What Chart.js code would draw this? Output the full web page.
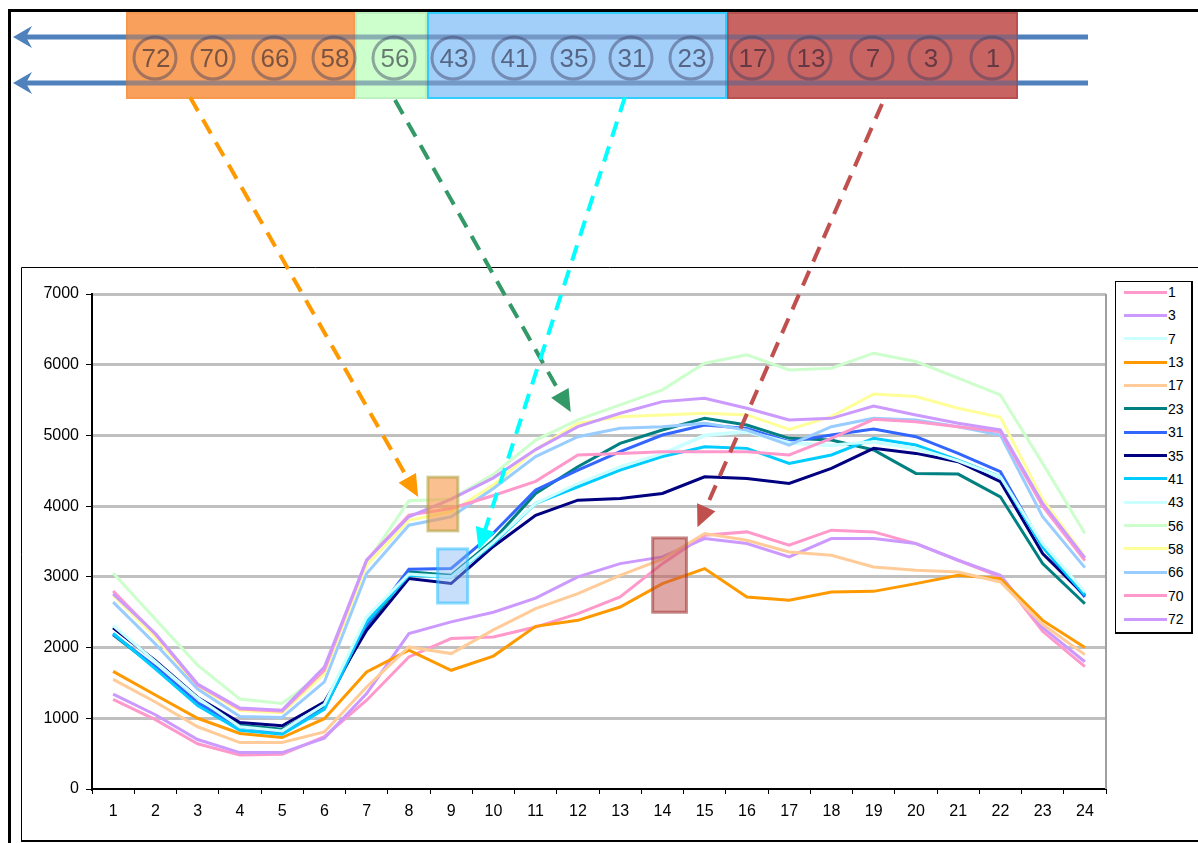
<!DOCTYPE html>
<html>
<head>
<meta charset="utf-8">
<script src="https://cdn.jsdelivr.net/npm/chart.js@4.4.1/dist/chart.umd.min.js"></script>
<style>
  html, body { margin: 0; padding: 0; background: #fff; overflow: hidden; }
  #wrap { position: relative; width: 1198px; height: 843px; }
  #loadChart { position: absolute; left: 0; top: 0; }
  #legend {
    position: absolute; left: 1115px; top: 281px; width: 75px; height: 350px;
    border: 1px solid #000; border-right-width: 2px; border-bottom-width: 2px;
    background: #fff; font: 14px "Liberation Sans", Arial, sans-serif; color: #000;
  }
  .swatch { position: absolute; left: 8px; width: 43px; height: 3px; }
  .lbl { position: absolute; left: 52px; line-height: 16px; }
</style>
</head>
<body>
<div id="wrap">
  <canvas id="loadChart" width="1198" height="843"></canvas>
  <div id="legend"></div>
</div>
<script>
const hours = ["1", "2", "3", "4", "5", "6", "7", "8", "9", "10", "11", "12",
  "13", "14", "15", "16", "17", "18", "19", "20", "21", "22", "23", "24"];

const load1 = [1267, 980, 640, 482, 491, 740, 1255, 1868, 2127, 2150, 2290, 2480, 2715, 3187, 3589, 3636, 3447, 3660, 3636, 3471, 3235, 3001, 2230, 1730];
const load3 = [1343, 1050, 700, 515, 515, 720, 1349, 2198, 2363, 2500, 2700, 3000, 3187, 3282, 3542, 3471, 3282, 3542, 3542, 3471, 3235, 3022, 2280, 1800];
const load7 = [2300, 1790, 1280, 870, 815, 1190, 2420, 3035, 2990, 3480, 4030, 4310, 4545, 4735, 4995, 5050, 4890, 4855, 4905, 4810, 4630, 4405, 3460, 2780];
const load13 = [1664, 1330, 1000, 785, 728, 995, 1656, 1962, 1679, 1880, 2300, 2385, 2573, 2904, 3117, 2715, 2668, 2786, 2795, 2904, 3022, 2975, 2384, 2000];
const load17 = [1550, 1230, 880, 657, 657, 807, 1443, 2009, 1915, 2250, 2550, 2762, 3022, 3250, 3613, 3518, 3353, 3306, 3140, 3093, 3069, 2928, 2330, 1900];
const load23 = [2180, 1720, 1210, 900, 846, 1160, 2290, 3071, 3022, 3520, 4180, 4557, 4888, 5077, 5242, 5148, 4959, 4935, 4794, 4463, 4453, 4132, 3187, 2620];
const load31 = [2190, 1730, 1220, 880, 800, 1140, 2316, 3108, 3118, 3620, 4227, 4510, 4770, 5006, 5148, 5100, 4912, 5006, 5091, 4982, 4746, 4487, 3430, 2715];
const load35 = [2280, 1815, 1295, 940, 894, 1231, 2245, 2976, 2906, 3430, 3870, 4085, 4108, 4180, 4415, 4392, 4321, 4534, 4817, 4746, 4628, 4345, 3329, 2739];
const load41 = [2200, 1700, 1180, 830, 775, 1130, 2363, 3024, 3000, 3470, 4040, 4274, 4510, 4700, 4840, 4817, 4605, 4723, 4959, 4864, 4652, 4415, 3420, 2739];
const load43 = [2312, 1800, 1290, 880, 822, 1200, 2434, 3040, 3000, 3490, 4040, 4320, 4557, 4746, 5006, 5060, 4900, 4864, 4912, 4820, 4640, 4415, 3471, 2786];
const load56 = [3055, 2400, 1750, 1272, 1210, 1650, 3200, 4075, 4100, 4450, 4935, 5219, 5431, 5644, 6022, 6140, 5927, 5951, 6163, 6045, 5809, 5573, 4605, 3613];
const load58 = [2740, 2150, 1450, 1110, 1080, 1632, 3165, 3800, 3920, 4300, 4800, 5170, 5265, 5290, 5313, 5290, 5086, 5266, 5587, 5549, 5384, 5257, 4100, 3282];
const load66 = [2643, 2050, 1414, 1026, 1012, 1514, 3047, 3731, 3849, 4250, 4700, 4982, 5100, 5124, 5171, 5077, 4864, 5124, 5242, 5219, 5124, 5006, 3850, 3131];
const load70 = [2800, 2190, 1470, 1130, 1100, 1679, 3236, 3873, 3967, 4150, 4350, 4723, 4746, 4770, 4770, 4770, 4723, 4959, 5228, 5195, 5124, 5053, 4000, 3230];
const load72 = [2760, 2200, 1485, 1144, 1115, 1726, 3236, 3850, 4100, 4400, 4800, 5124, 5313, 5478, 5526, 5384, 5219, 5242, 5417, 5290, 5171, 5077, 4038, 3268];

const seriesNames = ["1", "3", "7", "13", "17", "23", "31", "35", "41", "43", "56", "58", "66", "70", "72"];
const seriesValues = [load1, load3, load7, load13, load17, load23, load31, load35, load41, load43, load56, load58, load66, load70, load72];
const seriesColors = ["#ff99cc", "#cc99ff", "#ccffff", "#ff9900", "#ffcc99", "#008080", "#3366ff", "#000080",
  "#00ccff", "#ccffff", "#ccffcc", "#ffff99", "#99ccff", "#ff99cc", "#cc99ff"];

// banner groups (top strip), left to right
const bannerGroups = [
  { ids: ["72", "70", "66", "58"], from: 126, to: 355, fill: "#f8a05c", stroke: "#f59a50" },
  { ids: ["56"], from: 355, to: 427, fill: "#ccffcc", stroke: "#bff0bf" },
  { ids: ["43", "41", "35", "31", "23"], from: 427, to: 727, fill: "#a2cefa", stroke: "#33ccff" },
  { ids: ["17", "13", "7", "3", "1"], from: 727, to: 1018, fill: "#c86462", stroke: "#b85050" }
];
const bannerCircleX = [155, 213, 274, 334, 394, 453, 514, 573, 631, 691, 752, 810, 872, 930, 992];

// dashed arrows: start in page pixels, tip in data units (hour, value)
const pointers = [
  { color: "#ff9900", sx: 190, sy: 97, hour: 8.22, value: 4130 },
  { color: "#339966", sx: 395, sy: 100, hour: 11.83, value: 5330 },
  { color: "#00ffff", sx: 625, sy: 97, hour: 9.65, value: 3380 },
  { color: "#c0504d", sx: 882, sy: 104, hour: 14.83, value: 3700 }
];
// highlight boxes in data units
const highlights = [
  { h0: 8.45, h1: 9.16, v0: 3650, v1: 4410, fill: "rgba(247,150,70,0.6)", stroke: "rgba(170,160,60,0.55)" },
  { h0: 8.68, h1: 9.39, v0: 2630, v1: 3395, fill: "rgba(130,185,245,0.45)", stroke: "rgba(40,190,255,0.55)" },
  { h0: 13.77, h1: 14.57, v0: 2500, v1: 3550, fill: "rgba(192,80,77,0.5)", stroke: "rgba(165,60,60,0.6)" }
];

function arrowHead(ctx, x0, y0, x1, y1, len, half) {
  const a = Math.atan2(y1 - y0, x1 - x0);
  ctx.beginPath();
  ctx.moveTo(x1, y1);
  ctx.lineTo(x1 - len * Math.cos(a) + half * Math.sin(a), y1 - len * Math.sin(a) - half * Math.cos(a));
  ctx.lineTo(x1 - len * Math.cos(a) - half * Math.sin(a), y1 - len * Math.sin(a) + half * Math.cos(a));
  ctx.closePath();
  ctx.fill();
}

const framePlugin = {
  id: "frames",
  beforeDraw(chart) {
    const ctx = chart.ctx;
    ctx.save();
    ctx.fillStyle = "#fff";
    ctx.fillRect(0, 0, chart.width, chart.height);
    ctx.strokeStyle = "#000";
    ctx.lineWidth = 3;
    ctx.beginPath();
    ctx.moveTo(9.5, 843); ctx.lineTo(9.5, 10.5); ctx.lineTo(1198, 10.5);
    ctx.stroke();
    ctx.lineWidth = 1;
    ctx.beginPath();
    ctx.moveTo(1198, 267.5); ctx.lineTo(21.5, 267.5); ctx.lineTo(21.5, 841);
    ctx.stroke();
    ctx.lineWidth = 2;
    ctx.beginPath();
    ctx.moveTo(21, 841); ctx.lineTo(1198, 841);
    ctx.stroke();
    ctx.restore();
  },
  afterDatasetsDraw(chart) {
    const ctx = chart.ctx;
    const x = chart.scales.x;
    const y = chart.scales.y;
    const area = chart.chartArea;
    ctx.save();
    ctx.strokeStyle = "#a0a0a0";
    ctx.lineWidth = 2;
    ctx.beginPath();
    ctx.moveTo(area.right, area.top);
    ctx.lineTo(area.right, area.bottom);
    ctx.stroke();

    highlights.forEach((b) => {
      const left = x.getPixelForValue(b.h0 - 1);
      const right = x.getPixelForValue(b.h1 - 1);
      const top = y.getPixelForValue(b.v1);
      const bottom = y.getPixelForValue(b.v0);
      ctx.fillStyle = b.fill;
      ctx.fillRect(left, top, right - left, bottom - top);
      ctx.strokeStyle = b.stroke;
      ctx.lineWidth = 3;
      ctx.strokeRect(left, top, right - left, bottom - top);
    });

    // banner
    bannerGroups.forEach((g) => {
      ctx.fillStyle = g.fill;
      ctx.fillRect(g.from, 12, g.to - g.from, 87);
      ctx.strokeStyle = g.stroke;
      ctx.lineWidth = 2;
      ctx.strokeRect(g.from + 1, 13, g.to - g.from - 2, 85);
    });
    [37, 83].forEach((ly) => {
      ctx.fillStyle = "#4f81bd";
      ctx.fillRect(24, ly - 2.5, 102, 5);
      ctx.fillRect(1018, ly - 2.5, 70, 5);
      ctx.fillStyle = "rgba(70,100,150,0.5)";
      ctx.fillRect(126, ly - 2.5, 892, 5);
      ctx.fillStyle = "#4f81bd";
      ctx.beginPath();
      ctx.moveTo(13, ly);
      ctx.lineTo(32, ly - 11);
      ctx.lineTo(26, ly);
      ctx.lineTo(32, ly + 11);
      ctx.closePath();
      ctx.fill();
    });
    const order = bannerGroups.flatMap((g) => g.ids);
    ctx.font = "26px 'Liberation Sans', Arial, sans-serif";
    ctx.textAlign = "center";
    ctx.textBaseline = "middle";
    order.forEach((id, i) => {
      const cx = bannerCircleX[i];
      ctx.strokeStyle = "rgba(60,60,95,0.45)";
      ctx.lineWidth = 3;
      ctx.beginPath();
      ctx.ellipse(cx, 58, 21, 21, 0, 0, Math.PI * 2);
      ctx.stroke();
      ctx.fillStyle = "rgba(30,25,45,0.58)";
      ctx.fillText(id, cx + 1, 60);
    });

    // pointers
    pointers.forEach((p) => {
      const tx = x.getPixelForValue(p.hour - 1);
      const ty = y.getPixelForValue(p.value);
      const a = Math.atan2(ty - p.sy, tx - p.sx);
      const ex = tx - 18 * Math.cos(a);
      const ey = ty - 18 * Math.sin(a);
      ctx.strokeStyle = p.color;
      ctx.fillStyle = p.color;
      ctx.lineWidth = 4;
      ctx.setLineDash([16, 10]);
      ctx.beginPath();
      ctx.moveTo(p.sx, p.sy);
      ctx.lineTo(ex, ey);
      ctx.stroke();
      ctx.setLineDash([]);
      arrowHead(ctx, p.sx, p.sy, tx, ty, 22, 10);
    });
    ctx.restore();
  }
};

const datasets = seriesNames.map((name, i) => ({
  label: name,
  data: seriesValues[i],
  borderColor: seriesColors[i],
  backgroundColor: seriesColors[i],
  borderWidth: 3,
  pointRadius: 0,
  tension: 0,
  fill: false,
  order: seriesNames.length - i
}));

const fontFamily = "'Liberation Sans', Arial, sans-serif";

new Chart(document.getElementById("loadChart"), {
  type: "line",
  data: { labels: hours, datasets },
  options: {
    responsive: false,
    animation: false,
    devicePixelRatio: 1,
    layout: { padding: { left: 22, top: 294, right: 92, bottom: 0 } },
    plugins: { legend: { display: false }, tooltip: { enabled: false } },
    scales: {
      x: {
        offset: true,
        grid: { drawOnChartArea: false, offset: true, tickLength: 5, color: "#000", lineWidth: 1 },
        border: { color: "#000", width: 2 },
        ticks: { color: "#000", font: { family: fontFamily, size: 16 }, padding: 8, maxRotation: 0, autoSkip: false },
        afterFit: (s) => { s.height = 54; }
      },
      y: {
        min: 0,
        max: 7000,
        ticks: {
          stepSize: 1000,
          color: "#000",
          font: { family: fontFamily, size: 16 },
          padding: 7,
          callback: (v) => String(v)
        },
        grid: {
          color: (c) => (c.tick && c.tick.value === 0 ? "rgba(0,0,0,0)" : "#c0c0c0"),
          lineWidth: 3,
          tickColor: "#000",
          tickLength: 6,
          tickWidth: 1
        },
        border: { color: "#000", width: 2 },
        afterFit: (s) => { s.width = 70; }
      }
    }
  },
  plugins: [framePlugin]
});

const legend = document.getElementById("legend");
seriesNames.forEach((name, i) => {
  const cy = 10 + i * 23.36;
  const sw = document.createElement("div");
  sw.className = "swatch";
  sw.style.top = (cy - 1.5) + "px";
  sw.style.background = seriesColors[i];
  const lb = document.createElement("div");
  lb.className = "lbl";
  lb.style.top = (cy - 8) + "px";
  lb.textContent = name;
  legend.appendChild(sw);
  legend.appendChild(lb);
});
</script>
</body>
</html>
